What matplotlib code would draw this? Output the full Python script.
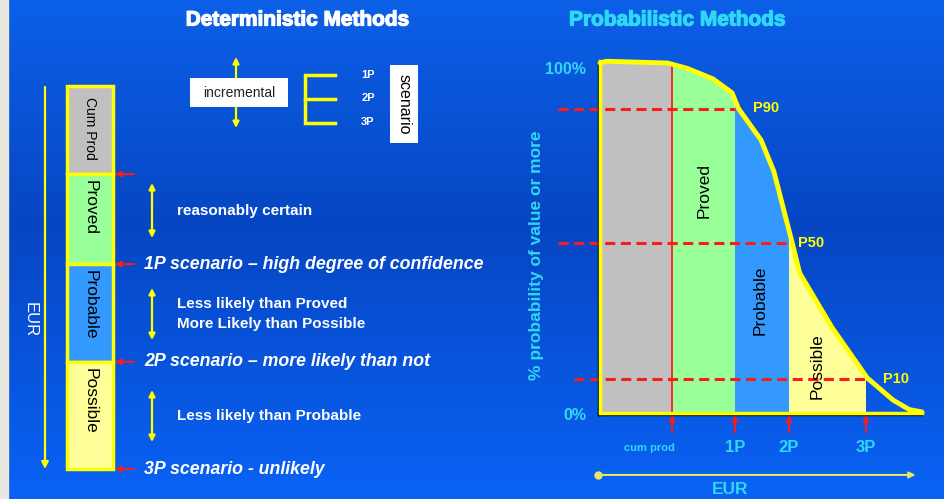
import numpy as np
import matplotlib
matplotlib.use('Agg')
import matplotlib.pyplot as plt
from matplotlib.patches import Rectangle, Polygon
import matplotlib.transforms as mtransforms
import matplotlib.patheffects as pe

plt.rcParams['font.family'] = ['Liberation Sans', 'DejaVu Sans']

# ---------------- data ----------------
det_categories = ["Cum Prod", "Proved", "Probable", "Possible"]
det_shares = [23, 23.5, 25.5, 28]          # share of EUR column (%)
scenario_labels = ["1P scenario \u2013 high degree of confidence",
                   "2P scenario \u2013 more likely than not",
                   "3P scenario - unlikely"]
range_notes = [["reasonably certain"],
               ["Less likely than Proved", "More Likely than Possible"],
               ["Less likely than Probable"]]
scenario_ticks = ["1P", "2P", "3P"]

prob_bands = ["cum prod", "Proved", "Probable", "Possible"]
band_edges = [0, 22.4, 41.9, 58.7, 82.6]   # EUR (% of axis)
edge_labels = ["cum prod", "1P", "2P", "3P"]
curve_eur = [0, 2, 21, 27, 35, 41, 43, 50, 54, 60, 62, 72, 83, 91, 96, 100]
curve_prob = [100, 100.5, 100, 98.5, 95.5, 91.5, 87, 78, 69, 47.5, 40, 24.5, 10, 3.7, 1, 0.3]
p_labels = ["P90", "P50", "P10"]
p_levels = [87, 48.6, 9.7]

# ---------------- styles ----------------
W, H = 945, 499
YEL = '#ffff00'
CYAN = '#2fd8f5'
RED = '#ff1a1a'
det_colors = ['#c0c0c0', '#99ff99', '#3399ff', '#ffff99']
band_colors = ['#c0c0c0', '#99ff99', '#3399ff', '#ffff99']

fig = plt.figure(figsize=(W / 100, H / 100), dpi=100)


def fa(x0, y0, x1, y1):
    return [x0 / W, 1 - y1 / H, (x1 - x0) / W, (y1 - y0) / H]


bg = fig.add_axes([0, 0, 1, 1])
ys = np.linspace(0, 1, H)
stops = [0, 0.45, 1]
cols = np.array([[12, 96, 232], [6, 70, 195], [10, 98, 245]]) / 255
grad = np.stack([np.interp(ys, stops, cols[:, i]) for i in range(3)], axis=-1)[:, None, :]
bg.imshow(grad, extent=[0, W, H, 0], aspect='auto', zorder=0)
bg.set_xlim(0, W)
bg.set_ylim(H, 0)
bg.axis('off')
bg.add_patch(Rectangle((0, 0), 8, H, color='#e8e8e0', zorder=1))

# ---------------- Deterministic ----------------
bg.text(298, 20, "Deterministic Methods", color='white', fontsize=15,
        fontweight='bold', ha='center', va='center',
        path_effects=[pe.withStroke(linewidth=0.9, foreground='white')])

# EUR arrow left
bg.annotate('', xy=(45, 469), xytext=(45, 87),
            arrowprops=dict(arrowstyle='-|>', color=YEL, lw=1.6,
                            mutation_scale=10, shrinkA=0, shrinkB=0))
bg.text(30, 320, "EUR", color='white', fontsize=12, rotation=270,
        ha='center', va='center')

col = fig.add_axes(fa(67, 86, 113, 469))
col.set_xlim(0, 1)
col.set_ylim(100, 0)
col.axis('off')
bottoms = np.concatenate([[0], np.cumsum(det_shares)[:-1]])
col.bar(0.5, det_shares, bottom=bottoms, width=1, color=det_colors,
        edgecolor=YEL, linewidth=2.5, clip_on=False)
for cat, b in zip(det_categories, bottoms):
    fs = 10 if cat == "Cum Prod" else 12.5
    off = 3 if cat == "Cum Prod" else 1.5
    col.text(0.5, b + off, cat, rotation=270, ha='center', va='top',
             fontsize=fs, color='black')

tb = mtransforms.blended_transform_factory(bg.transData, col.transData)
cum = np.cumsum(det_shares)
for b in cum:
    bg.annotate('', xy=(115, b), xytext=(134, b), xycoords=tb, textcoords=tb,
                arrowprops=dict(arrowstyle='-|>', color=RED, lw=1.5,
                                mutation_scale=8, shrinkA=0, shrinkB=0))
for lab, b in zip(scenario_labels, cum[1:]):
    bg.text(144, b, lab, transform=tb, color='white', fontsize=12.8,
            fontweight='bold', fontstyle='italic', ha='left', va='center')

arrow_spans = [(183, 238), (288, 340), (390, 442)]
for (a0, a1), notes in zip(arrow_spans, range_notes):
    bg.annotate('', xy=(152, a0), xytext=(152, a1),
                arrowprops=dict(arrowstyle='<|-|>', color=YEL, lw=1.6,
                                mutation_scale=9, shrinkA=0, shrinkB=0))
    mid = (a0 + a1) / 2
    n = len(notes)
    for i, t in enumerate(notes):
        bg.text(177, mid + (i - (n - 1) / 2) * 20, t, color='white',
                fontsize=11, fontweight='bold', ha='left', va='center')

# incremental / scenario legend
bg.annotate('', xy=(236, 57), xytext=(236, 128),
            arrowprops=dict(arrowstyle='<|-|>', color=YEL, lw=1.6,
                            mutation_scale=9, shrinkA=0, shrinkB=0))
bg.add_patch(Rectangle((190, 78), 98, 29, facecolor='white', edgecolor='none', zorder=3))
bg.text(239, 93, "incremental", color='#222222', fontsize=10, ha='center',
        va='center', zorder=4)
bg.plot([335, 305, 305, 335], [75, 75, 123, 123], color=YEL, lw=2.5,
        solid_joinstyle='miter')
bg.plot([305, 335], [99, 99], color=YEL, lw=2.5)
for t, y in zip(scenario_ticks, [75, 98, 122]):
    bg.text(368, y, t, color='white', fontsize=8, fontweight='bold',
            ha='center', va='center')
bg.add_patch(Rectangle((390, 65), 28, 78, facecolor='white', edgecolor='none', zorder=3))
bg.text(404, 104, "scenario", rotation=270, color='black', fontsize=11.5,
        ha='center', va='center', zorder=4)

# ---------------- Probabilistic ----------------
bg.text(678, 20, "Probabilistic Methods", color=CYAN, fontsize=15,
        fontweight='bold', ha='center', va='center',
        path_effects=[pe.withStroke(linewidth=0.9, foreground=CYAN)])
bg.text(537, 255, "% probability of value or more", rotation=90, color=CYAN,
        fontsize=12.5, fontweight='bold', ha='center', va='center')

pr = fig.add_axes(fa(600, 63, 922, 413))
pr.set_xlim(0, 100)
pr.set_ylim(0, 100)
pr.axis('off')
pr.patch.set_alpha(0)

verts = [(0, 0)] + list(zip(curve_eur, curve_prob)) + [(100, 0)]
clip_poly = Polygon(verts, closed=True, facecolor='none', edgecolor='none',
                    transform=pr.transData)
pr.add_patch(clip_poly)
bars = pr.bar(band_edges[:-1], 101, width=np.diff(band_edges), align='edge',
              color=band_colors, linewidth=0)
for bar in bars:
    bar.set_clip_path(clip_poly)

pr.vlines(band_edges[1], 0, 99.5, color=RED, lw=1.3)

dash_start = [-13, -13, -8.1]
for y, xe, xs in zip(p_levels, band_edges[2:], dash_start):
    pr.plot([xs, xe], [y, y], color=RED, lw=2.2, ls=(0, (3.3, 1.8)), clip_on=False)

shadow = [pe.SimpleLineShadow(offset=(-1, -1), shadow_color='black', alpha=0.9),
          pe.Normal()]
pr.plot([0, 0], [0, 100.5], color=YEL, lw=2.5, clip_on=False, path_effects=shadow)
pr.plot([0, 100], [0, 0], color=YEL, lw=2.5, clip_on=False, path_effects=shadow)
pr.plot(curve_eur, curve_prob, color=YEL, lw=3.5, solid_capstyle='round',
        solid_joinstyle='round', clip_on=False)

p_label_x = [47.5, 61.5, 88]
for lab, y, x in zip(p_labels, p_levels, p_label_x):
    pr.text(x, y, lab, color=YEL, fontsize=10.5, fontweight='bold',
            ha='left', va='center')

band_label_pos = [(32.4, 63.7), (49.7, 32.3), (67.4, 13.4)]
for lab, (x, y) in zip(prob_bands[1:], band_label_pos):
    pr.text(x, y, lab, rotation=90, color='black', fontsize=12.5,
            ha='center', va='center')

pr.text(-4.3, 98, "100%", color=CYAN, fontsize=11.5, fontweight='bold',
        ha='right', va='center')
pr.text(-4.3, -0.6, "0%", color=CYAN, fontsize=11.5, fontweight='bold',
        ha='right', va='center')

for x, lab in zip(band_edges[1:], edge_labels):
    pr.annotate('', xy=(x, -0.6), xytext=(x, -5.5),
                arrowprops=dict(arrowstyle='-|>', color=RED, lw=1.5,
                                mutation_scale=8, shrinkA=0, shrinkB=0),
                annotation_clip=False)
    if lab == "cum prod":
        pr.text(x - 7.2, -10, lab, color=CYAN, fontsize=8, fontweight='bold',
                ha='center', va='center', clip_on=False)
    else:
        pr.text(x, -10, lab, color=CYAN, fontsize=12, fontweight='bold',
                ha='center', va='center', clip_on=False)

pr.annotate('', xy=(98, -17.7), xytext=(-0.5, -17.7),
            arrowprops=dict(arrowstyle='-|>', color='#e8e860', lw=1.5,
                            mutation_scale=9, shrinkA=0, shrinkB=0),
            annotation_clip=False)
pr.plot([-0.5], [-17.7], 'o', color='#e8e860', ms=5, clip_on=False)
pr.text(40.4, -21.8, "EUR", color=CYAN, fontsize=12.5, fontweight='bold',
        ha='center', va='center', clip_on=False)

fig.savefig('out.png', dpi=100)
